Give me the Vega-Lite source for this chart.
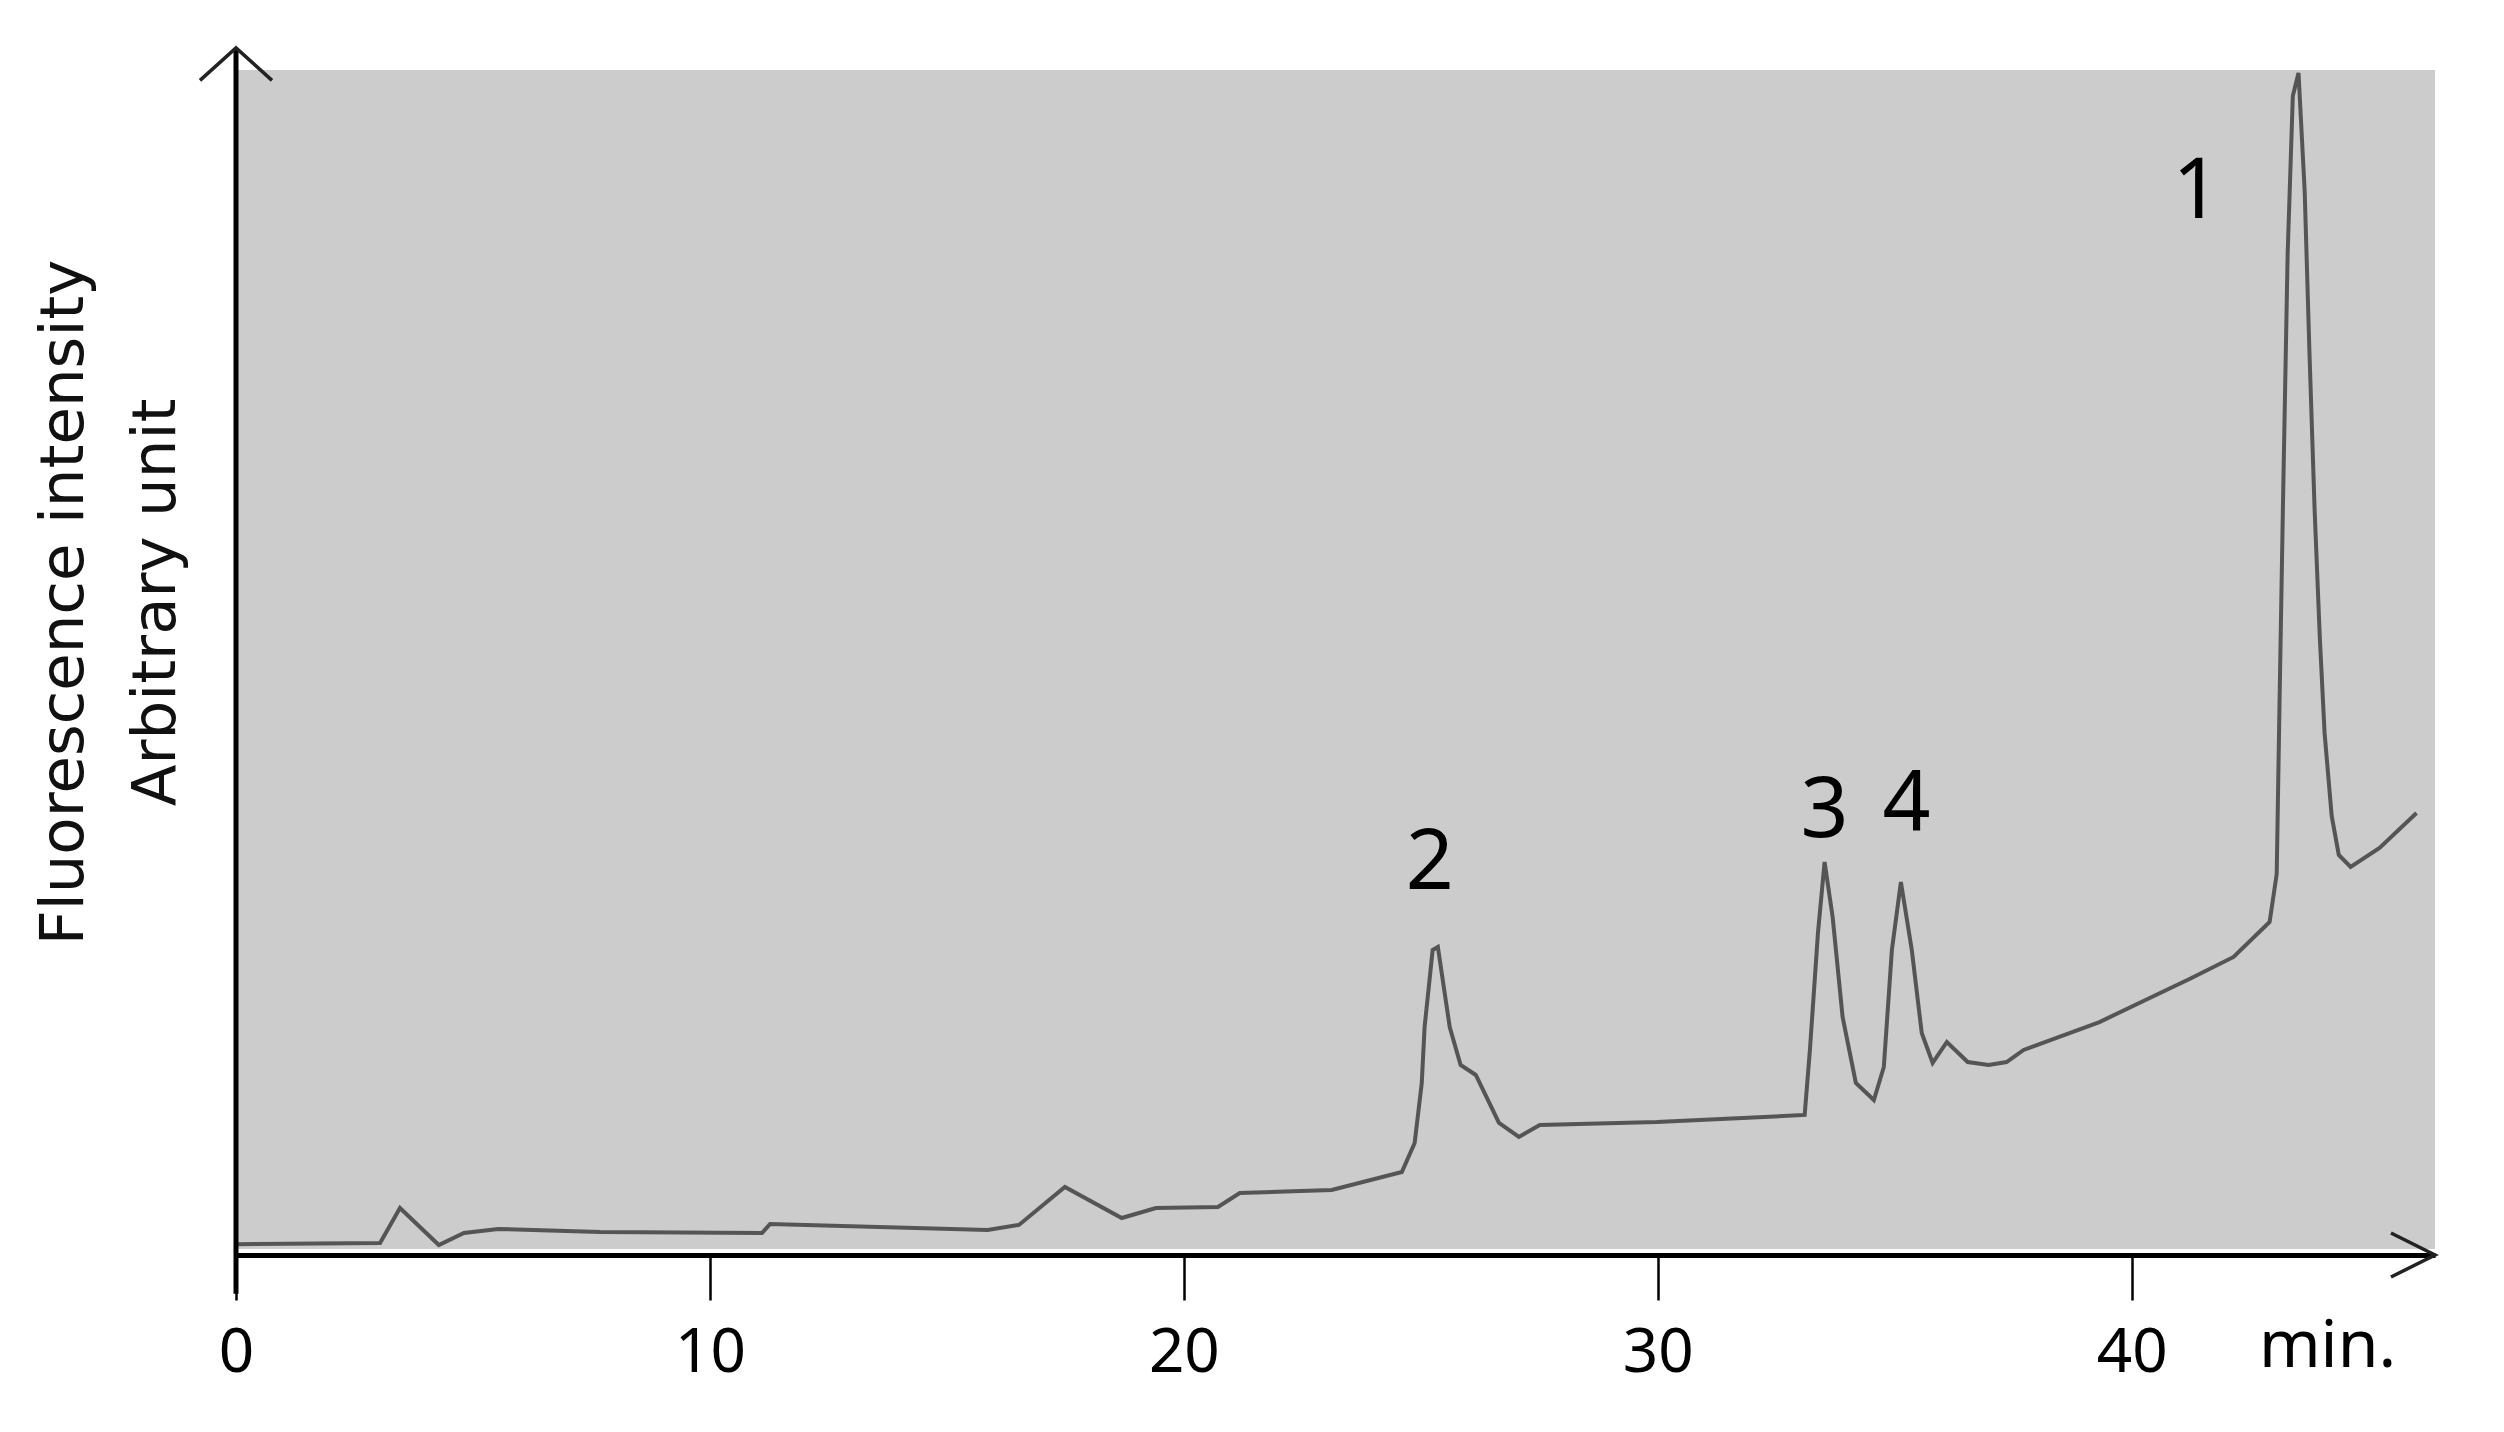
{
  "$schema": "https://vega.github.io/schema/vega-lite/v6.json",
  "width": 2199,
  "height": 1179,
  "autosize": {"type": "none"},
  "padding": {"left": 236, "top": 70, "right": 69, "bottom": 183},
  "background": "white",
  "config": {
    "view": {"fill": "#cccccc", "stroke": null},
    "axis": {"grid": false},
    "font": "Noto Sans"
  },
  "datasets": {
    "trace": [
      {"time": 0.0, "intensity": 0.4},
      {"time": 3.04, "intensity": 0.51},
      {"time": 3.46, "intensity": 3.48},
      {"time": 4.28, "intensity": 0.34},
      {"time": 4.81, "intensity": 1.36},
      {"time": 5.53, "intensity": 1.7},
      {"time": 7.68, "intensity": 1.44},
      {"time": 11.1, "intensity": 1.36},
      {"time": 11.27, "intensity": 2.12},
      {"time": 15.86, "intensity": 1.61},
      {"time": 16.52, "intensity": 2.04},
      {"time": 17.49, "intensity": 5.26},
      {"time": 18.69, "intensity": 2.63},
      {"time": 19.41, "intensity": 3.48},
      {"time": 20.72, "intensity": 3.56},
      {"time": 21.18, "intensity": 4.75},
      {"time": 23.12, "intensity": 5.0},
      {"time": 24.6, "intensity": 6.53},
      {"time": 24.87, "intensity": 8.99},
      {"time": 25.02, "intensity": 14.08},
      {"time": 25.08, "intensity": 18.83},
      {"time": 25.25, "intensity": 25.36},
      {"time": 25.36, "intensity": 25.62},
      {"time": 25.61, "intensity": 18.83},
      {"time": 25.84, "intensity": 15.61},
      {"time": 26.16, "intensity": 14.76},
      {"time": 26.65, "intensity": 10.69},
      {"time": 27.07, "intensity": 9.5},
      {"time": 27.51, "intensity": 10.52},
      {"time": 29.98, "intensity": 10.77},
      {"time": 33.1, "intensity": 11.37},
      {"time": 33.21, "intensity": 16.88},
      {"time": 33.38, "intensity": 26.8},
      {"time": 33.52, "intensity": 32.82},
      {"time": 33.69, "intensity": 28.16},
      {"time": 33.9, "intensity": 19.68},
      {"time": 34.18, "intensity": 14.08},
      {"time": 34.56, "intensity": 12.64},
      {"time": 34.77, "intensity": 15.44},
      {"time": 34.94, "intensity": 25.36},
      {"time": 35.13, "intensity": 31.13},
      {"time": 35.36, "intensity": 25.36},
      {"time": 35.57, "intensity": 18.32},
      {"time": 35.8, "intensity": 15.78},
      {"time": 36.1, "intensity": 17.56},
      {"time": 36.54, "intensity": 15.86},
      {"time": 36.98, "intensity": 15.61},
      {"time": 37.36, "intensity": 15.86},
      {"time": 37.72, "intensity": 16.88},
      {"time": 39.32, "intensity": 19.25},
      {"time": 40.38, "intensity": 21.29},
      {"time": 41.22, "intensity": 22.9},
      {"time": 42.15, "intensity": 24.77},
      {"time": 42.91, "intensity": 27.74},
      {"time": 43.06, "intensity": 31.81},
      {"time": 43.12, "intensity": 46.4},
      {"time": 43.19, "intensity": 62.68},
      {"time": 43.29, "intensity": 84.31},
      {"time": 43.4, "intensity": 97.79},
      {"time": 43.52, "intensity": 99.75},
      {"time": 43.65, "intensity": 89.74},
      {"time": 43.75, "intensity": 76.17},
      {"time": 43.86, "intensity": 62.68},
      {"time": 43.97, "intensity": 51.82},
      {"time": 44.07, "intensity": 43.77},
      {"time": 44.22, "intensity": 36.73},
      {"time": 44.37, "intensity": 33.42},
      {"time": 44.62, "intensity": 32.4},
      {"time": 45.23, "intensity": 34.01},
      {"time": 46.01, "intensity": 36.98}
    ],
    "peaks": [
      {"peak": "1", "time": 41.37, "intensity": 89.57},
      {"peak": "2", "time": 25.19, "intensity": 32.65},
      {"peak": "3", "time": 33.52, "intensity": 37.06},
      {"peak": "4", "time": 35.25, "intensity": 37.57}
    ]
  },
  "layer": [
    {
      "data": {"name": "trace"},
      "mark": {"type": "line", "color": "#555555", "strokeWidth": 4},
      "encoding": {
        "x": {
          "field": "time",
          "type": "quantitative",
          "scale": {"domain": [0, 46.4], "nice": false, "zero": false},
          "axis": {
            "values": [0, 10, 20, 30, 40],
            "offset": 6,
            "domainColor": "black",
            "domainWidth": 5,
            "tickColor": "black",
            "tickWidth": 2.5,
            "tickSize": 45,
            "labelFontSize": 62,
            "labelColor": "black",
            "labelPadding": 22,
            "labelFlush": false,
            "labelOverlap": false,
            "title": "min.",
            "titleFontSize": 66,
            "titleFontWeight": "normal",
            "titleColor": "black",
            "titleX": 2091,
            "titleY": 91,
            "titleBaseline": "middle",
            "titleAlign": "center"
          }
        },
        "y": {
          "field": "intensity",
          "type": "quantitative",
          "scale": {"domain": [0, 100], "nice": false},
          "axis": {
            "title": ["Fluorescence intensity", "Arbitrary unit"],
            "domain": false,
            "ticks": false,
            "labels": false,
            "titleFont": "DejaVu Sans",
            "titleFontSize": 61,
            "titleFontWeight": "normal",
            "titleColor": "#111111",
            "titleX": -172,
            "titleY": 532,
            "titleAngle": -90,
            "titleBaseline": "middle",
            "titleAlign": "center",
            "titleLineHeight": 92
          }
        }
      }
    },
    {
      "data": {"values": [{}]},
      "mark": {"type": "rule", "color": "black", "strokeWidth": 5},
      "encoding": {
        "x": {"datum": 0, "type": "quantitative"},
        "y": {"datum": -3.8, "type": "quantitative"},
        "y2": {"datum": 101.87}
      }
    },
    {
      "data": {"values": [{}]},
      "mark": {"type": "point", "shape": "M-1,0.9L0,0L1,0.9", "size": 5184, "filled": false, "stroke": "#222222", "strokeWidth": 3.5, "opacity": 1},
      "encoding": {
        "x": {"datum": 0, "type": "quantitative"},
        "y": {"datum": 101.87, "type": "quantitative"}
      }
    },
    {
      "data": {"values": [{}]},
      "mark": {"type": "point", "shape": "M-1,-0.5L0,0L-1,0.5", "size": 7744, "filled": false, "stroke": "#222222", "strokeWidth": 3.5, "opacity": 1},
      "encoding": {
        "x": {"datum": 46.4, "type": "quantitative"},
        "y": {"datum": -0.51, "type": "quantitative"}
      }
    },
    {
      "data": {"name": "peaks"},
      "mark": {"type": "text", "fontSize": 84, "color": "black", "baseline": "middle", "align": "center", "font": "Noto Sans"},
      "encoding": {
        "x": {"field": "time", "type": "quantitative"},
        "y": {"field": "intensity", "type": "quantitative"},
        "text": {"field": "peak"}
      }
    }
  ]
}
